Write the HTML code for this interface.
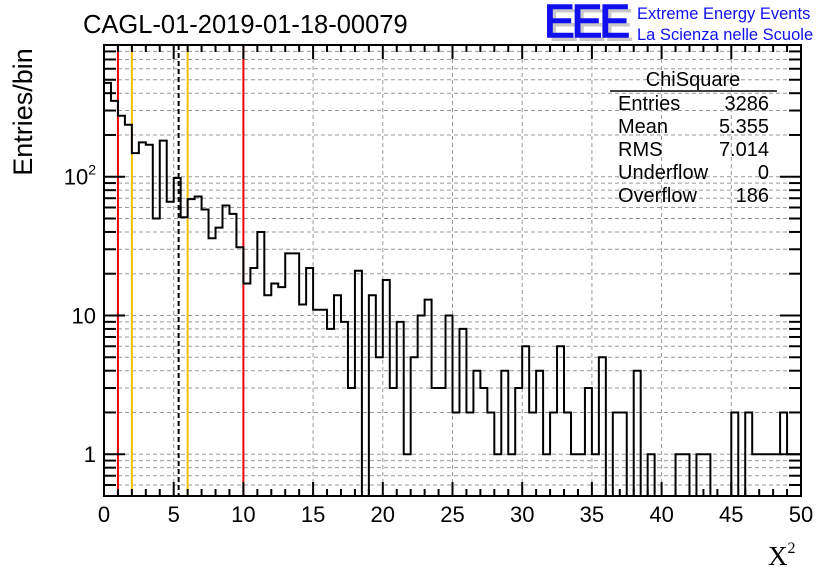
<!DOCTYPE html>
<html><head><meta charset="utf-8"><style>
html,body{margin:0;padding:0;background:#fff;}
svg{display:block;font-family:"Liberation Sans",sans-serif;}
</style></head><body>
<svg id="chart" width="836" height="572" xmlns="http://www.w3.org/2000/svg">
<text x="83" y="33" font-size="25.5">CAGL-01-2019-01-18-00079</text>
<g>
<text x="548" y="41" font-size="46" fill="#c8c8c8" letter-spacing="-3">EEE</text>
<text x="544" y="37" font-size="46" fill="#1010ee" letter-spacing="-3" stroke="#1010ee" stroke-width="1.5">EEE</text>
<text x="637" y="19" font-size="16.5" fill="#1010ee">Extreme Energy Events</text>
<text x="637" y="40" font-size="16.5" fill="#1010ee">La Scienza nelle Scuole</text>
</g>
<g id="grid"></g>
<g id="lines"></g>
<g id="hist"></g>
<g id="axes"></g>
<g font-size="20">
<text x="693" y="86" text-anchor="middle">ChiSquare</text>
<line x1="610" y1="91" x2="777" y2="91" stroke="#000" stroke-width="1.5"/>
<text x="618" y="110">Entries</text><text x="769" y="110" text-anchor="end">3286</text>
<text x="618" y="133">Mean</text><text x="769" y="133" text-anchor="end">5.355</text>
<text x="618" y="156">RMS</text><text x="769" y="156" text-anchor="end">7.014</text>
<text x="618" y="179">Underflow</text><text x="769" y="179" text-anchor="end">0</text>
<text x="618" y="202">Overflow</text><text x="769" y="202" text-anchor="end">186</text>
</g>
<text transform="translate(32,112) rotate(-90)" font-size="27" text-anchor="middle">Entries/bin</text>
<text x="768" y="565" font-size="27" font-family="Liberation Serif,serif">X<tspan font-size="16" dy="-12">2</tspan></text>
</svg>
<script>
const counts = [475,352,275,237,148,177,170,50,182,66,98,51,69,72,58,36,43,62,54,31,
17,22,40,14,17,16,28,28,12,22,11,11,8,14,9,3,21,0,14,5,
18,3,9,1,5,10,13,3,3,10,2,8,2,4,3,2,1,4,1,3,
6,2,4,1,2,6,2,1,1,3,1,5,0,2,2,0,4,0,1,0,
0,0,1,1,0,1,1,0,0,0,2,0,2,1,1,1,1,2,1,1];
const binWidth = 0.5;
const xTicks = [0,5,10,15,20,25,30,35,40,45,50];
const yTicks = [1,10,100];
const yTickBase = ["1","10","10"];
const yTickExp = ["","","2"];
const redLines = [1,10];
const yellowLines = [2,6];
const meanValue = 5.355;

const L=104,R=801,T=45,B=496,XMIN=0,XMAX=50,YMIN=0.5,YMAX=890;
const X=v=>L+(v-XMIN)/(XMAX-XMIN)*(R-L);
const Y=v=>B-(Math.log10(v)-Math.log10(YMIN))/(Math.log10(YMAX)-Math.log10(YMIN))*(B-T);
const NS="http://www.w3.org/2000/svg";
function mk(p,tag,a){const e=document.createElementNS(NS,tag);for(const k in a)e.setAttribute(k,a[k]);p.appendChild(e);return e;}
const grid=document.getElementById('grid'),axes=document.getElementById('axes'),lines=document.getElementById('lines'),hist=document.getElementById('hist');
xTicks.forEach(v=>{if(v>XMIN&&v<XMAX){const g=mk(grid,'line',{x1:X(v),x2:X(v),y1:T,y2:B,stroke:'#999','stroke-dasharray':'4,3'});

}});
for(let d=-1;d<=2;d++)for(let m=1;m<10;m++){const v=m*Math.pow(10,d);if(v>YMIN&&v<YMAX){
const y=Y(v);const g=mk(grid,'line',{x1:L,x2:R,y1:y,y2:y,stroke:'#999','stroke-dasharray':'4,3'});


mk(axes,'line',{x1:L,x2:L+(m==1?21:12),y1:y,y2:y,stroke:'#000','stroke-width':2});
mk(axes,'line',{x1:R,x2:R-(m==1?21:12),y1:y,y2:y,stroke:'#000','stroke-width':2});}}
redLines.forEach(v=>{const l=mk(lines,'line',{x1:X(v),x2:X(v),y1:T,y2:B,stroke:'#e00','stroke-width':2});

});
yellowLines.forEach(v=>{const l=mk(lines,'line',{x1:X(v),x2:X(v),y1:T,y2:B,stroke:'#f5c000','stroke-width':2});

});
const ml=mk(lines,'line',{x1:X(meanValue),x2:X(meanValue),y1:T,y2:B,stroke:'#000','stroke-width':2,'stroke-dasharray':'5,3'});


let d='';
counts.forEach((c,i)=>{const x0=X(i*binWidth),x1=X((i+1)*binWidth);const y=c>0?Math.max(T,Math.min(B,Y(c))):B;
d+=(i==0?'M':'L')+x0+','+y+'L'+x1+','+y;});
const hp=mk(hist,'path',{d:d,fill:'none',stroke:'#000','stroke-width':2});


mk(axes,'rect',{x:L,y:T,width:R-L,height:B-T,fill:'none',stroke:'#000','stroke-width':2});
for(let v=XMIN;v<=XMAX;v+=1){const maj=v%5==0;const len=maj?14:7;
mk(axes,'line',{x1:X(v),x2:X(v),y1:B,y2:B-len,stroke:'#000','stroke-width':2});
mk(axes,'line',{x1:X(v),x2:X(v),y1:T,y2:T+len,stroke:'#000','stroke-width':2});}
xTicks.forEach(v=>{const t=mk(axes,'text',{x:X(v),y:B+26,'font-size':22,'text-anchor':'middle'});t.textContent=String(v);

});
yTicks.forEach((v,i)=>{const t=mk(axes,'text',{x:L-8,y:Y(v)+8,'font-size':22,'text-anchor':'end'});
t.appendChild(document.createTextNode(yTickBase[i]));
if(yTickExp[i]){const s=mk(t,'tspan',{'font-size':14,dy:-10});s.textContent=yTickExp[i];}

});
</script>
</body></html>
